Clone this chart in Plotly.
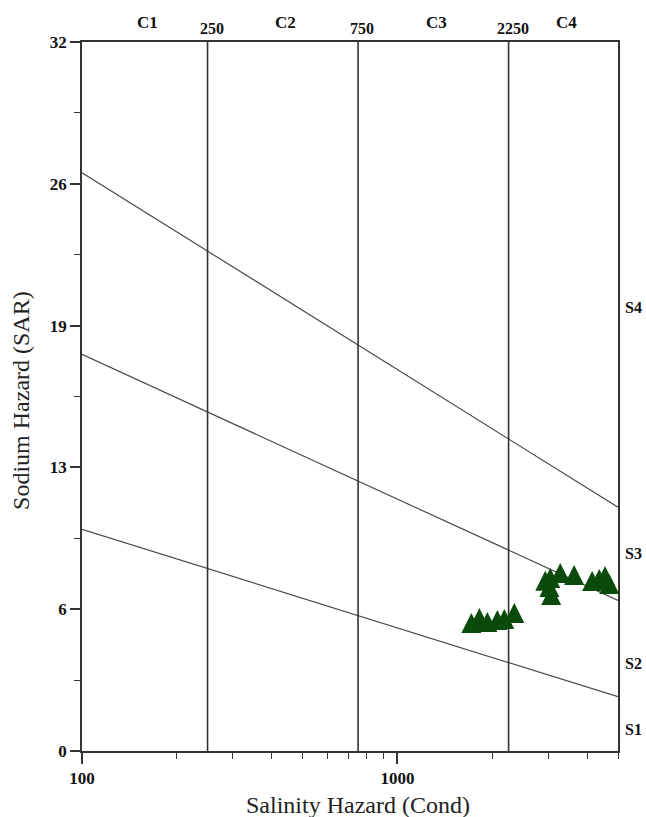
import math
import plotly.graph_objects as go

# Sample points: electrical conductivity (µS/cm) and sodium adsorption ratio
# (each triangle's tip sits on its sample value)
cond = [1715, 1818, 1927, 2073, 2181, 2346,
        2940, 3050, 3280, 3630, 3030, 3070,
        4140, 4360, 4550, 4690]
sar = [6.23, 6.45, 6.27, 6.36, 6.41, 6.68,
       8.13, 8.26, 8.48, 8.39, 7.85, 7.49,
       8.12, 8.21, 8.35, 7.99]

# Sodium hazard boundaries (straight on log-conductivity scale)
bound_cond = [100, 5000]
s1_s2 = [10.0, 2.45]
s2_s3 = [17.9, 6.8]
s3_s4 = [26.1, 11.0]

# Salinity class limits
class_limits = [250, 750, 2250]
class_labels = ["C1", "C2", "C3", "C4"]
sodium_labels = ["S1", "S2", "S3", "S4"]
sodium_label_y = [0.95, 3.97, 8.9, 20.0]

y_tickvals = [0, 6.4, 12.8, 19.2, 25.6, 32]
y_ticktext = ["0", "6", "13", "19", "26", "32"]
y_minor = [3.2, 9.6, 16.0, 22.4, 28.8]
x_tickvals = [100, 1000]
x_ticktext = ["100", "1000"]
x_minor = [200, 300, 400, 500, 600, 700, 800, 900, 2000, 3000, 4000, 5000]

X_MAX = 5000
SERIF = "Liberation Serif, Times New Roman, serif"
AXIS_COLOR = "#333333"

fig = go.Figure()

for ys in (s1_s2, s2_s3, s3_s4):
    fig.add_trace(go.Scatter(x=bound_cond, y=ys, mode="lines",
                             line=dict(color="#4a4a4a", width=1.2),
                             hoverinfo="skip", showlegend=False))

for c in class_limits:
    fig.add_trace(go.Scatter(x=[c, c], y=[0, 32], mode="lines",
                             line=dict(color=AXIS_COLOR, width=1.6),
                             hoverinfo="skip", showlegend=False))

# Near-equilateral triangles (arrow-up: tip at the point)
fig.add_trace(go.Scatter(x=cond, y=sar, mode="markers",
                         marker=dict(symbol="arrow-up", size=20,
                                     color="#0a4a0a", line=dict(width=0)),
                         cliponaxis=False, showlegend=False))

annotations = []
# Class names between the limits
edges = [100] + class_limits + [X_MAX]
for i, lab in enumerate(class_labels):
    mid = math.sqrt(edges[i] * edges[i + 1])
    annotations.append(dict(x=math.log10(mid), y=1, xref="x", yref="paper",
                            text=f"<b>{lab}</b>", showarrow=False,
                            xanchor="center", yanchor="middle",
                            xshift=3, yshift=20,
                            font=dict(family=SERIF, size=17, color="#111")))
# Limit values above each vertical line
for c in class_limits:
    annotations.append(dict(x=math.log10(c), y=1, xref="x", yref="paper",
                            text=f"<b>{c}</b>", showarrow=False,
                            xanchor="center", yanchor="middle",
                            xshift=4, yshift=14,
                            font=dict(family=SERIF, size=16, color="#111")))
# Sodium classes on the right
for lab, yv in zip(sodium_labels, sodium_label_y):
    annotations.append(dict(x=1, y=yv, xref="paper", yref="y",
                            text=f"<b>{lab}</b>", showarrow=False,
                            xanchor="center", yanchor="middle", xshift=15,
                            font=dict(family=SERIF, size=16, color="#111")))
# Axis titles
annotations.append(dict(x=0.515, y=-0.076, xref="paper", yref="paper",
                        text="Salinity Hazard (Cond)", showarrow=False,
                        xanchor="center", yanchor="middle",
                        font=dict(family=SERIF, size=24, color="#222")))
annotations.append(dict(x=-0.114, y=0.495, xref="paper", yref="paper",
                        text="Sodium Hazard (SAR)", showarrow=False,
                        textangle=-90, xanchor="center", yanchor="middle",
                        font=dict(family=SERIF, size=24, color="#222")))

fig.update_layout(
    width=646, height=817,
    margin=dict(l=82, r=28, t=42, b=66),
    paper_bgcolor="white", plot_bgcolor="white",
    annotations=annotations,
    xaxis=dict(type="log", range=[2, math.log10(X_MAX)],
               tickmode="array", tickvals=x_tickvals, ticktext=x_ticktext,
               ticks="outside", ticklen=11, tickwidth=1.5, tickcolor=AXIS_COLOR,
               minor=dict(tickmode="array", tickvals=x_minor, ticks="outside",
                          ticklen=6, tickwidth=1.2, tickcolor=AXIS_COLOR,
                          showgrid=False),
               showline=True, linecolor=AXIS_COLOR, linewidth=1.6, mirror=True,
               showgrid=False, zeroline=False,
               tickfont=dict(family=SERIF, size=17, color="#111", weight="bold")),
    yaxis=dict(range=[0, 32],
               tickmode="array", tickvals=y_tickvals, ticktext=y_ticktext,
               ticks="outside", ticklen=10, tickwidth=1.5, tickcolor=AXIS_COLOR,
               minor=dict(tickmode="array", tickvals=y_minor, ticks="outside",
                          ticklen=6, tickwidth=1.2, tickcolor=AXIS_COLOR,
                          showgrid=False),
               showline=True, linecolor=AXIS_COLOR, linewidth=1.6, mirror=True,
               showgrid=False, zeroline=False,
               tickfont=dict(family=SERIF, size=17, color="#111", weight="bold")),
)

fig.write_html("out.html")
